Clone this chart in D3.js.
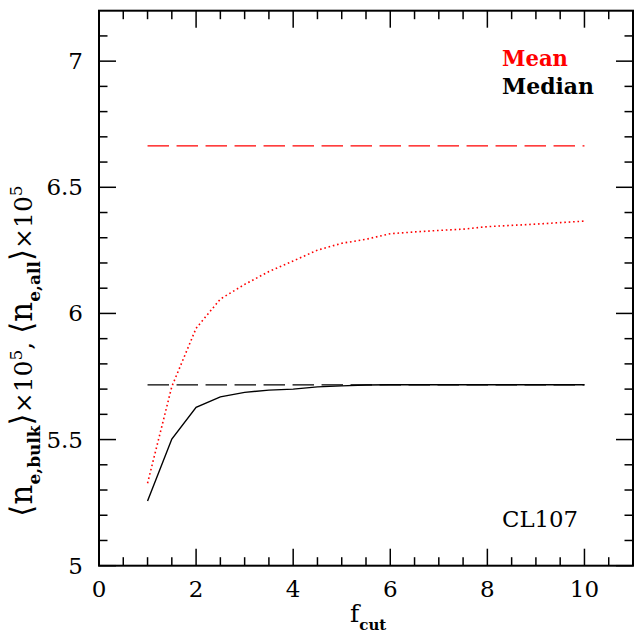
<!DOCTYPE html>
<html>
<head>
<meta charset="utf-8">
<script src="https://cdn.jsdelivr.net/npm/d3@7"></script>
<style>
  html, body { margin: 0; padding: 0; background: #fff; }
  svg { display: block; }
  text { font-family: "DejaVu Serif", "Liberation Serif", serif; }
</style>
</head>
<body>
<svg id="chart" width="635" height="634"></svg>
<script>
// Cut factor values
const fcut = [1, 1.5, 2, 2.5, 3, 3.5, 4, 4.5, 5, 5.5, 6, 6.5, 7, 7.5, 8, 8.5, 9, 9.5, 10];
// Mean of bulk density (x1e5) at each cut
const meanBulk = [5.327, 5.71, 5.941, 6.057, 6.115, 6.166, 6.208, 6.251, 6.278, 6.294, 6.316, 6.323, 6.329, 6.334, 6.344, 6.349, 6.354, 6.36, 6.366];
// Median of bulk density (x1e5) at each cut
const medianBulk = [5.256, 5.502, 5.628, 5.669, 5.687, 5.696, 5.700, 5.709, 5.713, 5.716, 5.717, 5.717, 5.717, 5.717, 5.717, 5.717, 5.717, 5.717, 5.717];
// Whole-cluster reference values
const meanAll = 6.664;
const medianAll = 5.717;
const allRange = [1, 10];

const xMajor = [0, 2, 4, 6, 8, 10];
const yMajor = [5, 5.5, 6, 6.5, 7];
const yTickLabels = ["5", "5.5", "6", "6.5", "7"];
const clusterName = "CL107";

const svg = d3.select("#chart");
const x = d3.scaleLinear().domain([0, 11]).range([99, 633]);
const y = d3.scaleLinear().domain([5, 7.2]).range([565.7, 10.7]);

const [x0, x1] = x.range();
const [y0, y1] = y.range();

// Minor tick positions
const xMinor = d3.range(0, 11.001, 0.5).filter(v => !xMajor.includes(v) && v < 11);
const yMinor = d3.range(5, 7.2001, 0.1).map(v => +v.toFixed(1)).filter(v => !yMajor.includes(v) && v < 7.2);

const majLen = 17, minLen = 8.5;
const ticks = svg.append("g").attr("stroke", "#000").attr("stroke-width", 1.5);

// bottom & top ticks
xMajor.concat(xMinor).forEach(v => {
  const L = xMajor.includes(v) ? majLen : minLen;
  ticks.append("line").attr("x1", x(v)).attr("x2", x(v)).attr("y1", y0).attr("y2", y0 - L);
  ticks.append("line").attr("x1", x(v)).attr("x2", x(v)).attr("y1", y1).attr("y2", y1 + L);
});
// left & right ticks
yMajor.concat(yMinor).forEach(v => {
  const L = yMajor.includes(v) ? majLen : minLen;
  ticks.append("line").attr("x1", x0).attr("x2", x0 + L).attr("y1", y(v)).attr("y2", y(v));
  ticks.append("line").attr("x1", x1).attr("x2", x1 - L).attr("y1", y(v)).attr("y2", y(v));
});

// frame
svg.append("rect")
  .attr("x", x0).attr("y", y1)
  .attr("width", x1 - x0).attr("height", y0 - y1)
  .attr("fill", "none").attr("stroke", "#000").attr("stroke-width", 2);

// tick labels
svg.append("g").selectAll("text").data(xMajor).join("text")
  .attr("x", d => x(d)).attr("y", 597)
  .attr("text-anchor", "middle").attr("font-size", 23)
  .text(d => d);

svg.append("g").selectAll("text").data(yMajor).join("text")
  .attr("x", 83).attr("y", d => y(d) + 8)
  .attr("text-anchor", "end").attr("font-size", 23)
  .text((d, i) => yTickLabels[i]);

// horizontal reference lines for the whole cluster
svg.append("line")
  .attr("x1", x(allRange[0])).attr("x2", x(allRange[1]))
  .attr("y1", y(meanAll)).attr("y2", y(meanAll))
  .attr("stroke", "#ff0000").attr("stroke-width", 1.3)
  .attr("stroke-dasharray", "21.5,7.5");

svg.append("line")
  .attr("x1", x(allRange[0])).attr("x2", x(allRange[1]))
  .attr("y1", y(medianAll)).attr("y2", y(medianAll))
  .attr("stroke", "#000").attr("stroke-width", 1.3)
  .attr("stroke-dasharray", "21.5,7.5");

const line = d3.line().x(d => x(d[0])).y(d => y(d[1]));

svg.append("path")
  .datum(fcut.map((f, i) => [f, meanBulk[i]]))
  .attr("d", line)
  .attr("fill", "none").attr("stroke", "#ff0000").attr("stroke-width", 1.6)
  .attr("stroke-dasharray", "1.6,2.8");

svg.append("path")
  .datum(fcut.map((f, i) => [f, medianBulk[i]]))
  .attr("d", line)
  .attr("fill", "none").attr("stroke", "#000").attr("stroke-width", 1.4);

// legend
svg.append("text").attr("x", 502).attr("y", 66)
  .attr("font-size", 22).attr("font-weight", "bold").attr("fill", "#ff0000")
  .attr("textLength", 66).attr("lengthAdjust", "spacingAndGlyphs")
  .text("Mean");
svg.append("text").attr("x", 502).attr("y", 94)
  .attr("font-size", 22).attr("font-weight", "bold").attr("fill", "#000")
  .attr("textLength", 92).attr("lengthAdjust", "spacingAndGlyphs")
  .text("Median");

svg.append("text").attr("x", 502).attr("y", 527)
  .attr("font-size", 23)
  .attr("textLength", 76).attr("lengthAdjust", "spacingAndGlyphs")
  .text(clusterName);

// x-axis label: f_cut
const xl = svg.append("text").attr("x", 350).attr("y", 622).attr("font-size", 25);
xl.append("tspan").text("f");
xl.append("tspan").attr("dy", 8).attr("font-size", 15).attr("font-weight", "bold").text("cut");

// y-axis label
const yl = svg.append("text")
  .attr("transform", "translate(32,351) rotate(-90)")
  .attr("text-anchor", "middle").attr("font-size", 25);
const part = (t, opts = {}) => {
  const s = yl.append("tspan").text(t);
  if (opts.dy) s.attr("dy", opts.dy);
  if (opts.size) s.attr("font-size", opts.size);
  if (opts.bold) s.attr("font-weight", "bold");
  if (opts.sans) s.style("font-family", "'DejaVu Sans', sans-serif");
  return s;
};
part("\u27E8", { size: 31, sans: true });
part("n", { size: 31 });
part("e,bulk", { size: 17, bold: true, dy: 8 });
part("\u27E9", { size: 31, dy: -8, sans: true });
part("\u00D710", { size: 25 });
part("5", { size: 17, dy: -10 });
part(", ", { size: 25, dy: 10 });
part("\u27E8", { size: 31, sans: true });
part("n", { size: 31 });
part("e,all", { size: 17, bold: true, dy: 8 });
part("\u27E9", { size: 31, dy: -8, sans: true });
part("\u00D710", { size: 25 });
part("5", { size: 17, dy: -10 });
</script>
</body>
</html>
